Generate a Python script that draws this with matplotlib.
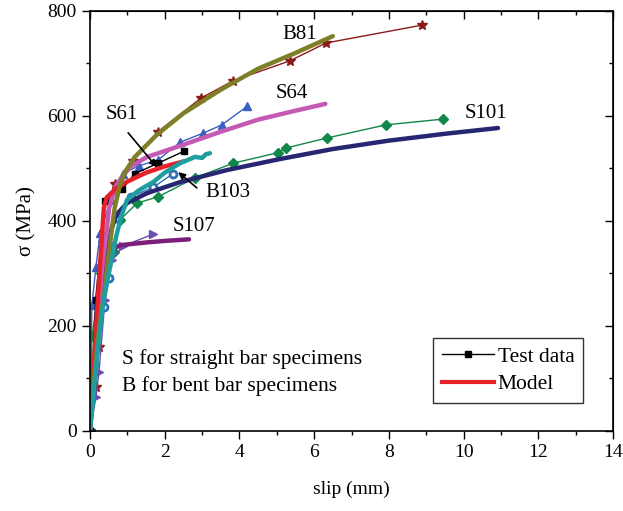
import numpy as np
import matplotlib.pyplot as plt

plt.rcParams['font.family'] = ['Liberation Serif', 'DejaVu Serif']

# test data (slip mm, stress MPa)
b81_x = [0, 0.16, 0.24, 0.35, 0.67, 1.15, 1.82, 2.97, 3.83, 5.35, 6.32, 8.89]
b81_y = [0, 84, 160, 358, 470, 514, 570, 634, 667, 705, 739, 773]
s64_x = [0, 0.05, 0.16, 0.27, 0.55, 0.88, 1.3, 1.82, 2.41, 3.02, 3.53, 4.2]
s64_y = [0, 240, 313, 377, 440, 490, 505, 516, 550, 567, 583, 618]
s61_x = [0, 0.15, 0.4, 0.86, 1.2, 1.82, 2.52]
s61_y = [0, 250, 438, 460, 490, 510, 533]
b103_x = [0, 0.1, 0.37, 0.51, 0.51, 0.7, 1.1, 1.69, 2.22]
b103_y = [0, 125, 236, 291, 354, 406, 446, 464, 490]
s101_x = [0, 0.05, 0.3, 0.64, 0.8, 1.26, 1.82, 2.81, 3.83, 5.03, 5.25, 6.34, 7.92, 9.45]
s101_y = [0, 180, 300, 341, 402, 434, 446, 482, 510, 530, 539, 558, 583, 594]
s107_x = [0, 0.16, 0.24, 0.4, 0.59, 0.88, 1.69]
s107_y = [0, 65, 112, 250, 326, 352, 375]

# model curves
mb81_x = [0, 0.08, 0.2, 0.3, 0.37, 0.45, 0.56, 0.66, 0.8, 0.95, 1.2, 1.8, 2.5, 3.5, 4.5, 5.5, 6.5]
mb81_y = [0, 80, 170, 225, 255, 307, 370, 425, 468, 495, 522, 565, 605, 650, 690, 720, 752]
ms64_x = [0, 0.1, 0.2, 0.32, 0.43, 0.51, 0.7, 1.07, 1.53, 2.41, 3.5, 4.5, 5.5, 6.3]
ms64_y = [0, 110, 210, 307, 370, 425, 468, 503, 522, 543, 570, 593, 610, 623]
ms61_x = [0, 0.1, 0.2, 0.3, 0.37, 0.45, 0.7, 1.0, 1.5, 2.0, 2.54]
ms61_y = [0, 120, 240, 350, 425, 445, 462, 475, 492, 504, 514]
mb103_x = [0, 0.1, 0.2, 0.3, 0.37, 0.45, 0.56, 0.7, 0.83, 0.99, 1.3, 1.71, 2.0, 2.41, 2.81, 3.0, 3.1, 3.21]
mb103_y = [0, 75, 150, 215, 250, 282, 320, 370, 408, 440, 458, 475, 492, 510, 522, 520, 527, 529]
ms101_x = [0, 0.1, 0.2, 0.3, 0.4, 0.5, 0.59, 0.72, 0.99, 1.53, 2.41, 3.67, 5.09, 6.5, 8.0, 9.5, 10.92]
ms101_y = [0, 100, 190, 260, 320, 360, 389, 413, 434, 453, 474, 497, 518, 537, 553, 566, 577]
ms107_x = [0, 0.1, 0.2, 0.3, 0.4, 0.5, 0.62, 0.83, 1.5, 2.0, 2.65]
ms107_y = [0, 100, 190, 250, 300, 335, 348, 354, 359, 362, 365]

fig = plt.figure(figsize=(6.23, 5.11), dpi=100)
ax = fig.add_axes([0.1445, 0.1566, 0.8395, 0.822])

ax.plot(b81_x, b81_y, color='#8B1A1A', lw=1, marker='*', ms=7)
ax.plot(s64_x, s64_y, color='#3A5FBF', lw=1, marker='^', ms=6)
ax.plot(s101_x, s101_y, color='#12874A', lw=1, marker='D', ms=5)
ax.plot(s107_x, s107_y, color='#6A4FB0', lw=1, marker='>', ms=6)
ax.plot(b103_x, b103_y, color='#2F6FB5', lw=1, marker='o', ms=5, mfc='white', mew=2)
ax.plot(s61_x, s61_y, color='black', lw=1, marker='s', ms=5)

mlw = 3.2
ax.plot(ms101_x, ms101_y, color='#262673', lw=mlw, solid_capstyle='round')
ax.plot(ms107_x, ms107_y, color='#7A1F7A', lw=mlw, solid_capstyle='round')
ax.plot(ms64_x, ms64_y, color='#C45AB3', lw=mlw, solid_capstyle='round')
ax.plot(ms61_x, ms61_y, color='#E8202A', lw=mlw, solid_capstyle='round')
ax.plot(mb81_x, mb81_y, color='#7F7F2A', lw=mlw, solid_capstyle='round')
ax.plot(mb103_x, mb103_y, color='#1E9E9E', lw=mlw, solid_capstyle='round')

# legend proxies
ax.plot([], [], color='black', lw=1, marker='s', ms=5, label='Test data')
ax.plot([], [], color='#E8202A', lw=3, label='Model')
leg = ax.legend(loc='lower right', bbox_to_anchor=(0.943, 0.067), fontsize=15.5,
                fancybox=False, edgecolor='black', handlelength=2.4,
                handletextpad=0.2, borderpad=0.4, labelspacing=0.35,
                borderaxespad=0)
leg.get_frame().set_linewidth(1)

fs = 15
ax.text(5.6, 755, 'B81', fontsize=fs, ha='center', va='center')
ax.text(5.4, 642, 'S64', fontsize=fs, ha='center', va='center')
ax.text(10.6, 605, 'S101', fontsize=fs, ha='center', va='center')
ax.text(2.77, 389, 'S107', fontsize=fs, ha='center', va='center')
ax.text(0.86, 602, 'S61', fontsize=fs, ha='center', va='center')
ax.annotate('', xy=(1.78, 503), xytext=(1.02, 568),
            arrowprops=dict(arrowstyle='-|>', color='black', lw=1.2, shrinkA=0, shrinkB=0))
ax.text(3.69, 455, 'B103', fontsize=fs, ha='center', va='center')
ax.annotate('', xy=(2.36, 493), xytext=(2.86, 463),
            arrowprops=dict(arrowstyle='-|>', color='black', lw=1.2, shrinkA=0, shrinkB=0))

ax.text(0.86, 137, 'S for straight bar specimens', fontsize=15.5, va='center')
ax.text(0.86, 85, 'B for bent bar specimens', fontsize=15.5, va='center')

ax.set_xlim(0, 14)
ax.set_ylim(0, 800)
ax.set_xticks(np.arange(0, 15, 2))
ax.set_yticks(np.arange(0, 801, 200))
ax.set_xticks(np.arange(1, 14, 2), minor=True)
ax.set_yticks(np.arange(100, 800, 200), minor=True)
ax.tick_params(which='both', direction='out', labelsize=14, width=1)
ax.tick_params(which='major', length=6)
ax.tick_params(which='minor', length=3)
for s in ax.spines.values():
    s.set_linewidth(1.2)

top = ax.secondary_xaxis('top')
top.set_xticks(np.arange(0, 15, 2))
top.set_xticks(np.arange(1, 14, 2), minor=True)
top.tick_params(which='both', direction='in', labeltop=False, width=1)
top.tick_params(which='major', length=6)
top.tick_params(which='minor', length=3)
right = ax.secondary_yaxis('right')
right.set_yticks(np.arange(0, 801, 200))
right.set_yticks(np.arange(100, 800, 200), minor=True)
right.tick_params(which='both', direction='in', labelright=False, width=1)
right.tick_params(which='major', length=6)
right.tick_params(which='minor', length=3)

ax.set_xlabel('slip (mm)', fontsize=14, labelpad=14)
ax.set_ylabel('σ (MPa)', fontsize=15, labelpad=8)

fig.savefig('out.png', dpi=100)
